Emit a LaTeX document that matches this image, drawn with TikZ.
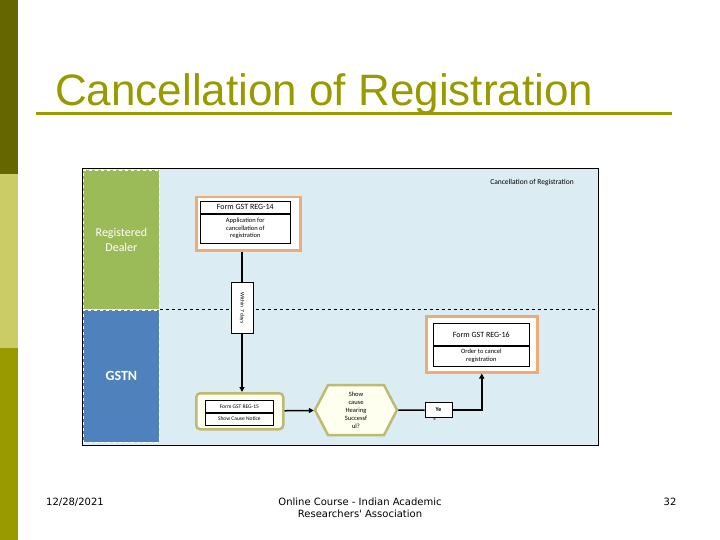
\documentclass[tikz,border=0pt]{standalone}
\usepackage{fontspec}
\setmainfont{Liberation Sans}
\newfontfamily\calib{Carlito}
\newfontfamily\footfont{DejaVu Sans}
\usetikzlibrary{positioning,arrows.meta,shapes.geometric,shapes.symbols}
\definecolor{olivedark}{RGB}{102,102,0}
\definecolor{olivelight}{RGB}{204,204,102}
\definecolor{olivemid}{RGB}{153,153,0}
\definecolor{lanebg}{RGB}{219,237,243}
\definecolor{dealergreen}{RGB}{155,187,89}
\definecolor{gstnblue}{RGB}{79,129,189}
\definecolor{formorange}{RGB}{240,170,115}
\definecolor{khaki}{RGB}{190,186,115}
\definecolor{paleyellow}{RGB}{255,255,240}

\begin{document}
\begin{tikzpicture}[x=1pt, y=-1pt,
  lane/.style={draw=white, dashed, line width=0.8pt, inner sep=0pt},
  frame/.style={draw=formorange, line width=2.5pt, fill=white, inner sep=0pt},
  khakibox/.style={draw=khaki, line width=2.5pt, fill=paleyellow, inner sep=0pt},
  formhead/.style={draw, line width=0.7pt, fill=white, inner sep=0pt, font=\calib\fontsize{8}{9}\selectfont},
  formbody/.style={draw, line width=0.7pt, fill=white, inner sep=0pt, align=center, font=\calib\fontsize{6.5}{7.5}\selectfont},
  conn/.style={line width=1.5pt},
  flow/.style={conn, -{Triangle[length=5pt, width=5pt]}}]
  \useasboundingbox (0,0) rectangle (720,540);
  % slide side bar and title
  \fill[olivedark] (0,0) rectangle (18,174);
  \fill[olivelight] (0,174) rectangle (18,348);
  \fill[olivemid] (0,348) rectangle (18,540);
  \node[font=\fontsize{44}{50}\selectfont, text=olivemid, anchor=base west, inner sep=0pt] (title) at (55,106) {Cancellation of Registration};
  \draw[olivemid, line width=3pt] (36,114) -- (672,114);
  % swimlanes
  \node[draw, line width=1pt, fill=lanebg, minimum width=516, minimum height=277, anchor=north west, inner sep=0pt] (panel) at (82,168) {};
  \node[lane, fill=dealergreen, minimum width=76, minimum height=139, anchor=north west, text=white, align=center, font=\calib\fontsize{12}{15}\selectfont] (dealer) at (83,170) {Registered\\Dealer};
  \node[lane, fill=gstnblue, minimum width=76, minimum height=132, anchor=north west, text=white, font=\calib\bfseries\fontsize{14}{16}\selectfont] (gstn) at (83,310) {GSTN};
  \draw[dashed, line width=0.8pt] (dealer.south east) -- (dealer.south east -| panel.east);
  \node[font=\calib\fontsize{7.5}{9}\selectfont] (caption) at (532,183) {Cancellation of Registration};
  % Form GST REG-14
  \node[frame, minimum width=104, minimum height=53, anchor=north west] (reg14) at (195,196) {};
  \node[formhead, minimum width=90, minimum height=12, anchor=north west] (reg14h) at (200,201) {Form GST REG-14};
  \node[formbody, minimum width=90, minimum height=29, anchor=north] (reg14b) at (reg14h.south) {Application for\\cancellation of\\registration};
  % within 7 days
  \node[formbody, rotate=-90, minimum width=51, minimum height=22, font=\calib\fontsize{5.5}{6}\selectfont] (within) at (242,308) {Within 7 days};
  % Form GST REG-15
  \node[khakibox, rounded corners=4pt, minimum width=87, minimum height=36, anchor=north west] (reg15) at (195,392) {};
  \node[formhead, minimum width=68, minimum height=12, anchor=north west, font=\calib\fontsize{5.5}{6}\selectfont] (reg15h) at (205,400) {Form GST REG-15};
  \node[formhead, minimum width=68, minimum height=12, anchor=north, font=\calib\fontsize{5.5}{6}\selectfont] (reg15b) at (reg15h.south) {Show Cause Notice};
  % hearing decision
  \node[signal, signal to=east and west, signal pointer angle=125, draw=khaki, line width=2.5pt, fill=paleyellow, minimum width=82, minimum height=50, inner sep=0pt, align=center, font=\calib\fontsize{6.5}{8}\selectfont] (hear) at (356,410) {Show\\cause\\Hearing\\Successf\\ul?};
  \node[formhead, minimum width=27, minimum height=15, font=\calib\bfseries\fontsize{6}{7}\selectfont, label={[font=\calib\fontsize{6}{7}\selectfont, inner sep=0pt, xshift=-4pt]below:s}] (yes) at (438.5,410) {Ye};
  % Form GST REG-16
  \node[frame, minimum width=111, minimum height=56, anchor=north west] (reg16) at (425,315) {};
  \node[formhead, minimum width=96, minimum height=22, anchor=north west] (reg16h) at (433,323) {Form GST REG-16};
  \node[formbody, minimum width=96, minimum height=20, anchor=north] (reg16b) at (reg16h.south) {Order to cancel\\registration};
  % connectors
  \draw[conn] (within.west) -- (within.west |- reg14.south);
  \draw[flow] (within.east) -- (within.east |- reg15.north);
  \draw[flow] (reg15) -- (hear);
  \draw[conn] (hear) -- (yes);
  \draw[flow] (yes) -| (reg16);
  % footer
  \node[font=\footfont\fontsize{10}{12}\selectfont] (date) at (75,502) {12/28/2021};
  \node[font=\footfont\fontsize{10}{12}\selectfont, align=center] (course) at (360,508) {Online Course - Indian Academic\\Researchers' Association};
  \node[font=\footfont\fontsize{10}{12}\selectfont] (page) at (670,502) {32};
\end{tikzpicture}
\end{document}
